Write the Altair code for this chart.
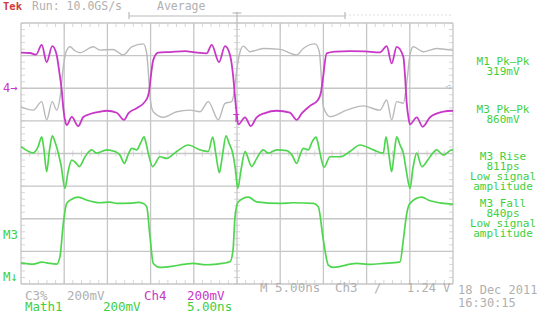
import altair as alt
import pandas as pd

# ---------------- data (time in ns, level in screen divisions) ----------------
ch4_t = [-25.0, -23.96, -23.26, -22.60, -22.03, -21.38, -20.87, -20.60, -20.29, -20.08, -19.91, -19.71,
         -19.13, -18.37, -17.79, -17.01, -15.86, -15.08, -13.92, -13.08, -12.58, -11.61, -10.65, -10.30,
         -10.15, -9.95, -9.69, -9.11, -7.75, -6.02, -4.86, -3.51, -2.93, -2.08, -1.39, -0.81, -0.46,
         -0.23, -0.06, 0.15, 0.93, 1.59, 2.28, 3.24, 4.59, 6.13, 6.91, 7.49, 8.45, 9.37, 9.72, 9.92,
         10.38, 11.34, 13.08, 14.81, 16.55, 17.33, 17.90, 18.48, 19.25, 19.44, 19.64, 19.85, 20.02,
         20.80, 21.49, 22.34, 23.88, 24.85, 25.0]
ch4_v = [3.09, 3.08, 3.03, 3.33, 2.80, 3.29, 3.02, 2.56, 1.95, 1.33, 1.03, 0.87,
         1.12, 0.84, 1.12, 1.21, 1.28, 1.31, 1.25, 1.03, 1.23, 1.39, 1.59, 1.76,
         1.95, 2.41, 2.87, 3.09, 3.11, 3.14, 3.10, 3.07, 3.33, 2.80, 3.29, 3.02, 2.41,
         1.74, 1.27, 0.89, 1.11, 0.84, 1.11, 1.24, 1.31, 1.25, 1.03, 1.23, 1.46, 1.64, 1.88, 2.25,
         3.07, 3.12, 3.14, 3.13, 3.10, 3.29, 2.76, 3.27, 2.97, 2.41, 1.55, 1.09, 0.89,
         1.11, 0.82, 1.11, 1.28, 1.31, 1.30]

ch3_t = [-25.0, -23.58, -22.60, -22.03, -21.38, -20.87, -20.49, -20.10, -19.79, -19.33, -18.75, -18.17,
         -16.63, -15.86, -14.35, -13.16, -12.19, -10.84, -10.45, -10.24, -10.07, -9.69, -8.53, -6.98,
         -5.44, -4.28, -3.32, -2.16, -1.39, -0.61, -0.29, -0.03, 0.35, 0.73, 1.50, 3.04, 4.98, 6.91,
         7.67, 9.03, 9.53, 9.78, 9.99, 10.76, 12.70, 14.62, 16.55, 17.33, 17.90, 18.48, 19.25, 19.62,
         20.02, 20.40, 21.56, 23.11, 24.85, 25.0]
ch3_v = [1.43, 1.33, 1.59, 1.03, 1.59, 1.33, 1.70, 2.66, 3.11, 3.27, 3.15, 3.09,
         3.27, 3.17, 3.19, 3.02, 3.27, 3.36, 3.07, 2.41, 1.74, 1.28, 1.11, 1.28,
         1.33, 1.28, 1.59, 1.03, 1.54, 1.59, 1.95, 2.56, 3.11, 3.29, 3.12, 3.22, 3.19, 3.02,
         3.22, 3.36, 3.12, 2.25, 1.43, 1.13, 1.33, 1.46, 1.33, 1.64, 1.03, 1.59, 1.54, 2.10,
         3.02, 3.27, 3.12, 3.22, 3.17, 3.17]

m1_t = [-25.0, -23.58, -23.03, -22.60, -22.34, -22.03, -21.70, -21.38, -21.06, -20.68, -20.37, -19.91,
        -19.56, -19.13, -18.75, -18.25, -17.59, -16.82, -16.24, -15.08, -14.12, -13.54, -13.04, -12.62,
        -12.19, -11.61, -11.11, -10.76, -10.53, -10.27, -9.76, -8.91, -8.14, -6.98, -5.64, -4.28, -3.32,
        -2.81, -2.43, -2.05, -1.68, -1.27, -0.93, -0.50, -0.17, 0.09, 0.46, 0.93, 1.70, 2.28, 3.04,
        3.62, 4.59, 5.75, 6.37, 6.91, 7.29, 7.67, 8.25, 8.68, 9.14, 9.37, 9.61, 10.07, 10.76, 11.92,
        13.08, 14.24, 15.78, 16.93, 17.25, 17.59, 17.90, 18.17, 18.48, 18.87, 19.25, 19.62, 20.02,
        20.37, 20.80, 21.38, 22.34, 23.11, 23.88, 24.85, 25.0]
m1_v = [0.21, 0.02, 0.20, 0.51, 0.11, -0.56, 0.11, 0.54, 0.35, 0.01, -0.35, -1.07,
        -0.57, -0.20, -0.26, -0.40, -0.10, 0.11, 0.01, 0.11, 0.06, -0.05, -0.30, -0.05,
        0.16, 0.11, 0.35, 0.51, 0.32, 0.01, -0.40, -0.10, -0.15, 0.06, 0.26, 0.11, 0.06,
        0.50, -0.05, -0.59, -0.05, 0.54, 0.32, 0.01, -0.51, -1.07, -0.51, 0.06, -0.40, -0.15, 0.11,
        0.01, 0.11, 0.09, -0.05, -0.30, -0.05, 0.16, 0.11, 0.35, 0.50, 0.32, 0.01, -0.42, -0.10, -0.10,
        0.06, 0.26, 0.11, 0.01, 0.51, -0.05, -0.56, -0.05, 0.51, 0.26, 0.01, -0.57, -1.07,
        -0.44, 0.01, -0.40, -0.10, 0.11, -0.05, 0.11, 0.11]

m3_t = [-25.0, -23.58, -22.60, -22.03, -20.87, -20.49, -20.10, -19.71, -19.13, -18.37, -17.40, -15.86,
        -14.70, -13.92, -12.38, -11.40, -10.84, -10.45, -10.07, -9.69, -8.91, -7.37, -6.20, -5.06,
        -3.60, -2.35, -0.81, -0.46, -0.23, 0.15, 1.31, 2.28, 4.98, 6.50, 8.83, 9.41, 9.99, 10.57,
        11.15, 13.85, 15.20, 16.93, 18.87, 19.25, 19.62, 20.02, 21.38, 22.34, 24.85, 25.0]
m3_v = [-3.35, -3.39, -3.33, -3.35, -3.39, -3.16, -2.14, -1.53, -1.40, -1.34, -1.43, -1.51,
        -1.49, -1.53, -1.52, -1.50, -1.53, -1.63, -2.55, -3.37, -3.49, -3.45, -3.40, -3.37,
        -3.41, -3.39, -3.32, -2.96, -1.94, -1.48, -1.34, -1.48, -1.53, -1.51, -1.53, -1.63, -2.65, -3.42,
        -3.49, -3.37, -3.40, -3.37, -3.32, -2.65, -1.88, -1.53, -1.34, -1.45, -1.55, -1.55]

major_t = [-25, -20, -15, -10, -5, 0, 5, 10, 15, 20, 25]
major_v = [-4, -3, -2, -1, 0, 1, 2, 3, 4]
minor_t = [i * 1.0 for i in range(-25, 26)]
minor_v = [i * 0.2 for i in range(-20, 21)]
record_t = [-12.5, 12.5]

top_labels = ["Tek", "Run: 10.0GS/s", "Average"]
meas_labels = ["M1 Pk\u2013Pk", "319mV", "M3 Pk\u2013Pk", "860mV", "M3 Rise", "811ps", "Low signal",
               "amplitude", "M3 Fall", "840ps", "Low signal", "amplitude"]

# ---------------- styling ----------------
MAG = "#c837c8"
GRN = "#4fd64f"
GRNT = "#3fcf3f"
GRY = "#b9b9b9"
GRID = "#c6c6c6"
GTXT = "#b0b0b0"
FONT = "DejaVu Sans Mono"

L, T = 21, 23          # plot origin in the window
W, H = 432, 261

xs = alt.Scale(domain=[-25, 25])
ys = alt.Scale(domain=[-4, 4])


def label(text, x, y, color, size=12, align="left", weight="normal"):
    return alt.Chart(pd.DataFrame({"s": [text]})).mark_text(
        align=align, baseline="middle", color=color, fontSize=size, font=FONT, fontWeight=weight
    ).encode(text="s:N", x=alt.value(x - L), y=alt.value(y - T))


layers = []

# grid
layers.append(alt.Chart(pd.DataFrame({"t": major_t})).mark_rule(color=GRID, strokeWidth=1.3)
              .encode(x=alt.X("t:Q", scale=xs, axis=None)))
layers.append(alt.Chart(pd.DataFrame({"v": major_v})).mark_rule(color=GRID, strokeWidth=1.3)
              .encode(y=alt.Y("v:Q", scale=ys, axis=None)))

# minor ticks on centre lines and borders
tdf = pd.DataFrame({"t": minor_t})
vdf = pd.DataFrame({"v": minor_v})
layers.append(alt.Chart(tdf).mark_tick(orient="vertical", color=GRID, size=6, thickness=1)
              .encode(x=alt.X("t:Q", scale=xs, axis=None), y=alt.value(H / 2)))
layers.append(alt.Chart(tdf).mark_tick(orient="vertical", color=GRID, size=8, thickness=1, clip=True)
              .encode(x=alt.X("t:Q", scale=xs, axis=None), y=alt.value(0)))
layers.append(alt.Chart(tdf).mark_tick(orient="vertical", color=GRID, size=8, thickness=1, clip=True)
              .encode(x=alt.X("t:Q", scale=xs, axis=None), y=alt.value(H)))
layers.append(alt.Chart(vdf).mark_tick(orient="horizontal", color=GRID, size=6, thickness=1)
              .encode(y=alt.Y("v:Q", scale=ys, axis=None), x=alt.value(W / 2)))
layers.append(alt.Chart(vdf).mark_tick(orient="horizontal", color=GRID, size=8, thickness=1, clip=True)
              .encode(y=alt.Y("v:Q", scale=ys, axis=None), x=alt.value(0)))
layers.append(alt.Chart(vdf).mark_tick(orient="horizontal", color=GRID, size=8, thickness=1, clip=True)
              .encode(y=alt.Y("v:Q", scale=ys, axis=None), x=alt.value(W)))


# traces
def trace(t, v, color, width=1.7):
    return alt.Chart(pd.DataFrame({"t": t, "v": v})).mark_line(
        color=color, strokeWidth=width, interpolate="monotone"
    ).encode(x=alt.X("t:Q", scale=xs, axis=None), y=alt.Y("v:Q", scale=ys, axis=None), order="t:Q")


layers.append(trace(ch3_t, ch3_v, GRY, 1.4))
layers.append(trace(ch4_t, ch4_v, MAG, 1.8))
layers.append(trace(m1_t, m1_v, GRN, 1.7))
layers.append(trace(m3_t, m3_v, GRN, 1.7))

# record bracket above the graticule
rec = pd.DataFrame({"t": [record_t[0]], "t2": [record_t[1]]})
layers.append(alt.Chart(rec).mark_rule(color=GRY, strokeWidth=1.2)
              .encode(x=alt.X("t:Q", scale=xs, axis=None), x2="t2:Q", y=alt.value(16 - T)))
layers.append(alt.Chart(pd.DataFrame({"t": [record_t[1]], "t2": [25]})).mark_rule(
    color="#dddddd", strokeWidth=1, strokeDash=[2, 2])
              .encode(x=alt.X("t:Q", scale=xs, axis=None), x2="t2:Q", y=alt.value(15 - T)))
layers.append(alt.Chart(pd.DataFrame({"t": record_t})).mark_rule(color=GRY, strokeWidth=1.2)
              .encode(x=alt.X("t:Q", scale=xs, axis=None), y=alt.value(12 - T), y2=alt.value(19 - T)))
layers.append(alt.Chart(pd.DataFrame({"t": [0]})).mark_rule(color=GRY, strokeWidth=1.2)
              .encode(x=alt.X("t:Q", scale=xs, axis=None), y=alt.value(12 - T), y2=alt.value(0)))
layers.append(alt.Chart(pd.DataFrame({"t": [-0.5], "t2": [0.5]})).mark_rule(color=GRY, strokeWidth=1.2)
              .encode(x=alt.X("t:Q", scale=xs, axis=None), x2="t2:Q", y=alt.value(13 - T)))

# header
layers.append(label(top_labels[0], 3, 7, "#d03a3a", 10.5, weight="bold"))
layers.append(label(top_labels[1], 32, 7, GTXT, 11.5))
layers.append(label(top_labels[2], 157, 7, GTXT, 11.5))

# left-edge markers
layers.append(label("4\u2192", 3, 88, MAG, 12))
layers.append(label("M3", 3, 235, GRNT, 12.5))
layers.append(label("M\u2193", 3, 277, GRNT, 12.5))
layers.append(label("T", 236, 119, MAG, 10, align="center"))
layers.append(label("\u25c1", 448, 87, GTXT, 8, align="center"))

# measurements panel
meas_y = [62, 72, 110, 120, 157, 167, 177, 187, 204, 214, 224, 234]
for s, yy in zip(meas_labels, meas_y):
    layers.append(label(s, 503, yy, GRNT, 11, align="center"))

# bottom status
layers.append(label("C3%", 25, 296, GTXT, 12.5))
layers.append(label("200mV", 67, 296, GTXT, 12.5))
layers.append(label("Ch4", 144, 296, MAG, 12.5))
layers.append(label("200mV", 187, 296, MAG, 12.5))
layers.append(label("Math1", 25, 307, GRNT, 12.5))
layers.append(label("200mV", 103, 307, GRNT, 12.5))
layers.append(label("5.00ns", 187, 307, GRNT, 12.5))
layers.append(label("M 5.00ns", 260, 288, GTXT, 12.5))
layers.append(label("Ch3", 335, 288, GTXT, 12.5))
layers.append(label("/", 374, 288, GTXT, 12.5))
layers.append(label("1.24 V", 407, 288, GTXT, 12))
layers.append(label("18 Dec 2011", 458, 290, GTXT, 12))
layers.append(label("16:30:15", 458, 303, GTXT, 12))

chart = alt.layer(*layers).properties(
    width=W, height=H,
    padding={"left": L, "top": T, "right": 540 - L - W, "bottom": 312 - T - H},
    autosize=alt.AutoSizeParams(type="none"),
    background="white",
).configure_view(stroke=None)

chart.save("out.html", embed_options={"renderer": "svg", "actions": False})
